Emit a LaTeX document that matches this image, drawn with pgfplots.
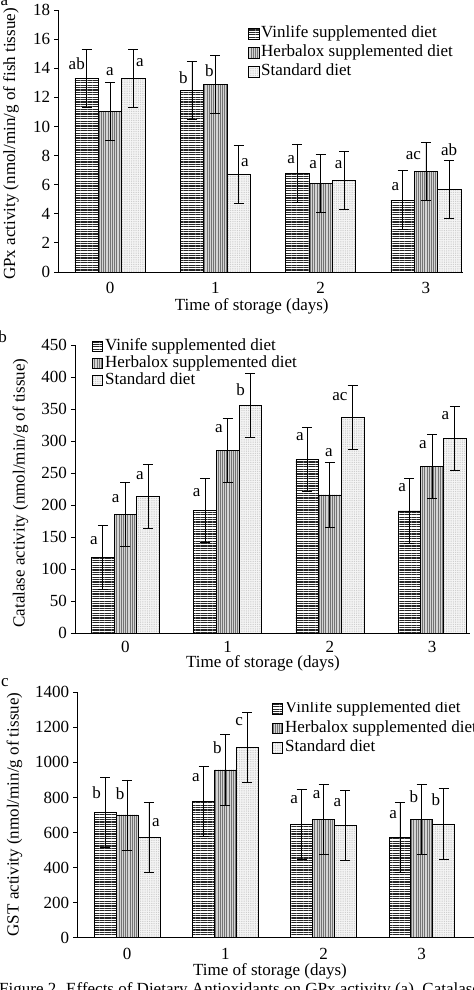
\documentclass[border=0pt]{standalone}
\usepackage{fontspec}
\setmainfont{Liberation Serif}
\usepackage{pgfplots}
\pgfplotsset{compat=1.18}
\usetikzlibrary{patterns.meta}

\newcommand{\txt}{\fontsize{17bp}{20bp}\selectfont}
\tikzset{lab/.style={font=\txt, inner sep=0pt}}

% Each group is centred on 0,1,2,3; the three diets sit at -0.222, 0 and +0.222.
\pgfplotsset{
  panel/.style={
    scale only axis,
    axis lines*=left,
    axis line style={black, line width=0.8bp},
    ymin=0,
    xtick={0,1,2,3},
    xtick style={draw=none},
    ytick style={black, line width=0.8bp},
    tick align=outside,
    major tick length=4bp,
    ticklabel style={font=\txt},
    /pgf/number format/assume math mode=true,
    /pgf/number format/1000 sep={},
    yticklabel style={inner sep=0pt, xshift=-4bp},
    xticklabel style={inner sep=0pt, yshift=-6bp},
    error bars/y dir=both,
    error bars/y explicit,
    error bars/error mark=-,
    error bars/error mark options={rotate=90, black, mark size=5bp, line width=0.8bp},
    error bars/error bar style={black, line width=0.8bp},
    legend cell align=left,
    legend style={draw=none, fill=none, inner sep=0pt, outer sep=0pt,
      anchor=west, font=\txt, column sep=0pt,
      nodes={inner xsep=2bp, inner ysep=0pt, text height=12bp, text depth=4bp}},
  },
  sq/.style={legend image code/.code={\draw[##1, line width=0.6bp] (0bp,-5.3bp) rectangle (10.5bp,5.3bp);}},
  vin/.style={ybar, bar width=0.222, bar shift=0, draw=black, line width=0.7bp,
    fill=white, postaction={pattern={Lines[angle=0,distance=2.4bp,line width=1.1bp]}, pattern color=black!85}, sq},
  her/.style={ybar, bar width=0.222, bar shift=0, draw=black, line width=0.7bp,
    fill=black!17, postaction={pattern={Lines[angle=90,distance=2.2bp,line width=0.45bp]}, pattern color=black!55}, sq},
  std/.style={ybar, bar width=0.222, bar shift=0, draw=black, line width=0.7bp,
    fill=black!4, postaction={pattern={Dots[distance=1.8bp,radius=0.4bp]}, pattern color=black!30}, sq},
}

\begin{document}
\begin{tikzpicture}
\useasboundingbox (0bp,0bp) rectangle (474bp,990bp);
\clip (0bp,0bp) rectangle (474bp,990bp);

% ---------- (a) GPx ----------
\begin{axis}[panel, at={(58.3bp,718bp)}, anchor=south west,
  width=404.7bp, height=262bp,
  xmin=-0.491, xmax=3.352, ymax=18, ytick={0,2,...,18},
  legend style={at={(0.469,0.836)}, row sep=3bp}]
\addplot[vin] coordinates {(-0.222,13.3) +- (0,2.0) (0.778,12.45) +- (0,2.0) (1.778,6.8) +- (0,2.0) (2.778,4.95) +- (0,2.0)};
\addplot[her] coordinates {(0,11.05) +- (0,2.0) (1,12.9) +- (0,2.0) (2,6.1) +- (0,2.0) (3,6.9) +- (0,2.0)};
\addplot[std] coordinates {(0.222,13.3) +- (0,2.0) (1.222,6.7) +- (0,2.0) (2.222,6.3) +- (0,2.0) (3.222,5.7) +- (0,2.0)};
\legend{Vinlife supplemented diet, Herbalox supplemented diet, Standard diet}
\node[lab] at (axis cs:-0.316,14.33) {ab};
\node[lab] at (axis cs:0.0,13.8) {a};
\node[lab] at (axis cs:0.285,14.4) {a};
\node[lab] at (axis cs:0.696,13.37) {b};
\node[lab] at (axis cs:0.943,13.8) {b};
\node[lab] at (axis cs:1.28,7.52) {a};
\node[lab] at (axis cs:1.72,7.75) {a};
\node[lab] at (axis cs:1.93,7.39) {a};
\node[lab] at (axis cs:2.17,7.39) {a};
\node[lab] at (axis cs:2.71,5.9) {a};
\node[lab] at (axis cs:2.88,8.0) {ac};
\node[lab] at (axis cs:3.22,8.37) {ab};
\end{axis}

% ---------- (b) Catalase ----------
\begin{axis}[panel, at={(75bp,356.7bp)}, anchor=south west,
  width=395bp, height=288.3bp,
  xmin=-0.494, xmax=3.371, ymax=450, ytick={0,50,...,450},
  xticklabel style={yshift=2.5bp},
  legend style={at={(0.043,0.9365)}, row sep=1bp}]
\addplot[vin] coordinates {(-0.222,119) +- (0,50) (0.778,192) +- (0,50) (1.778,271) +- (0,50) (2.778,191) +- (0,50)};
\addplot[her] coordinates {(0,185) +- (0,50) (1,286) +- (0,50) (2,216) +- (0,50) (3,260) +- (0,50)};
\addplot[std] coordinates {(0.222,213) +- (0,50) (1.222,356) +- (0,50) (2.222,337) +- (0,50) (3.222,304) +- (0,50)};
\legend{Vinife supplemented diet, Herbalox supplemented diet, Standard diet}
\node[lab] at (axis cs:-0.308,144.6) {a};
\node[lab] at (axis cs:-0.096,209.7) {a};
\node[lab] at (axis cs:0.142,246.6) {a};
\node[lab] at (axis cs:0.696,220) {a};
\node[lab] at (axis cs:0.914,320) {a};
\node[lab] at (axis cs:1.126,381) {b};
\node[lab] at (axis cs:1.706,307) {a};
\node[lab] at (axis cs:1.99,282.5) {a};
\node[lab] at (axis cs:2.097,369.4) {ac};
\node[lab] at (axis cs:2.706,227.9) {a};
\node[lab] at (axis cs:2.911,295) {a};
\node[lab] at (axis cs:3.13,339.8) {a};
\end{axis}

% ---------- (c) GST ----------
\begin{axis}[panel, at={(77.3bp,52.3bp)}, anchor=south west,
  width=398.7bp, height=245.4bp,
  xmin=-0.508, xmax=3.553, ymax=1400, ytick={0,200,...,1400},
  legend style={at={(0.4883,0.853)}, row sep=3.5bp}]
\addplot[vin] coordinates {(-0.222,715) +- (0,200) (0.778,778) +- (0,200) (1.778,648) +- (0,200) (2.778,570) +- (0,200)};
\addplot[her] coordinates {(0,700) +- (0,200) (1,957) +- (0,200) (2,673) +- (0,200) (3,673) +- (0,200)};
\addplot[std] coordinates {(0.222,570) +- (0,200) (1.222,1085) +- (0,200) (2.222,641) +- (0,200) (3.222,649) +- (0,200)};
\legend{Vinlife supplemented diet, Herbalox supplemented diet, Standard diet}
\node[lab] at (axis cs:-0.31,829) {b};
\node[lab] at (axis cs:-0.073,820) {b};
\node[lab] at (axis cs:0.293,658) {a};
\node[lab] at (axis cs:0.70,913) {a};
\node[lab] at (axis cs:0.918,1086) {b};
\node[lab] at (axis cs:1.14,1232) {c};
\node[lab] at (axis cs:1.70,789) {a};
\node[lab] at (axis cs:1.93,814) {a};
\node[lab] at (axis cs:2.14,770) {a};
\node[lab] at (axis cs:2.71,700) {a};
\node[lab] at (axis cs:2.92,804) {b};
\node[lab] at (axis cs:3.145,789) {b};
\end{axis}
% the first key of panel (c) is partly hidden at its top
\fill[white] (271bp,287.6bp) rectangle (474bp,297bp);

% axis titles
\node[lab, rotate=90] at (11bp,846bp) {GPx activity (nmol/min/g of fish tissue)};
\node[lab, rotate=90] at (20.5bp,497bp) {Catalase activity (nmol/min/g of tissue)};
\node[lab, rotate=90] at (14.5bp,175.5bp) {GST activity (nmol/min/g of tissue)};
\node[lab] at (251.7bp,683.3bp) {Time of storage (days)};
\node[lab] at (263bp,326.5bp) {Time of storage (days)};
\node[lab] at (270bp,18.3bp) {Time of storage (days)};

% panel letters
\node[lab, anchor=base] at (4.5bp,984bp) {a};
\node[lab, anchor=base] at (2.5bp,647bp) {b};
\node[lab, anchor=base] at (5bp,303bp) {c};

% caption
\node[lab, anchor=base west] at (-1bp,-4.5bp) {Figure 2. Effects of Dietary Antioxidants on GPx activity (a), Catalase activity (b)};
\end{tikzpicture}
\end{document}
